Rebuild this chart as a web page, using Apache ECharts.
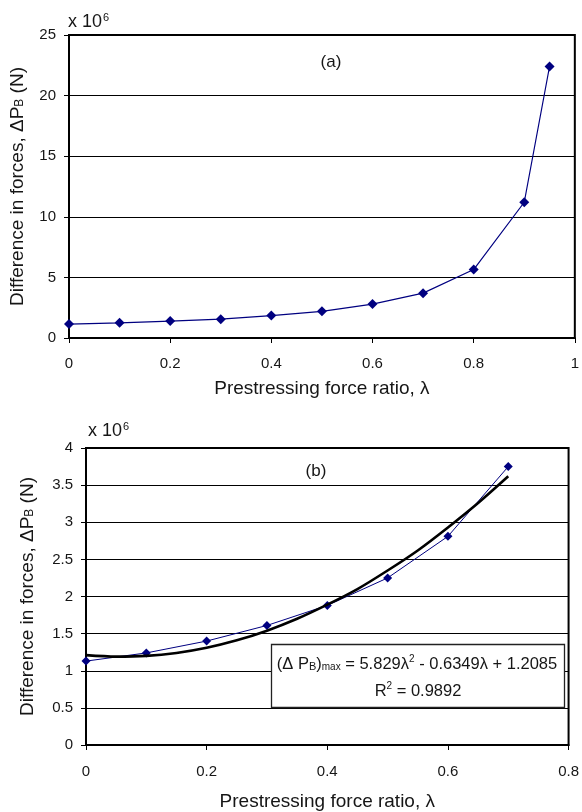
<!DOCTYPE html>
<html><head><meta charset="utf-8">
<script src="https://cdn.jsdelivr.net/npm/echarts@6/dist/echarts.min.js"></script>
<style>html,body{margin:0;padding:0;background:#fff}#c{width:582px;height:812px}</style>
</head><body><div id="c"></div>
<script>
// Chart (a)
const lambdaA = [0, 0.1, 0.2, 0.3, 0.4, 0.5, 0.6, 0.7, 0.8, 0.9, 0.95];
const dPA = [1.15, 1.25, 1.4, 1.55, 1.85, 2.2, 2.8, 3.7, 5.65, 11.2, 22.4];
// Chart (b)
const lambdaB = [0, 0.1, 0.2, 0.3, 0.4, 0.5, 0.6, 0.7];
const dPB = [1.13, 1.24, 1.40, 1.61, 1.88, 2.25, 2.81, 3.75];
// Trend line (b)
const trendX = [0, 0.05, 0.1, 0.15, 0.2, 0.25, 0.3, 0.35, 0.4, 0.45, 0.5, 0.55, 0.6, 0.65, 0.7];
const trendY = [1.21, 1.19, 1.20, 1.24, 1.31, 1.41, 1.54, 1.70, 1.89, 2.10, 2.35, 2.62, 2.93, 3.26, 3.62];
const eqLine1 = '(Δ P{s|B}){m|max} = 5.829λ{sup|2} - 0.6349λ + 1.2085';
const eqLine2 = 'R{sup|2} = 0.9892';
const yTitle = 'Difference in forces, ΔP{s|B} (N)';
const xTitle = 'Prestressing force ratio, λ';

const FF = '"Liberation Sans", Arial, sans-serif';
const TXT = '#161616';
const chart = echarts.init(document.getElementById('c'));
const toPairs = (xs, ys) => xs.map((x, i) => [x, ys[i]]);
const navy = '#000080';

function xAxisCfg(gi, max, gap, margin) {
  return {
    type: 'value', gridIndex: gi, min: 0, max: max, interval: 0.2,
    name: xTitle, nameLocation: 'middle', nameGap: gap,
    nameTextStyle: { fontFamily: FF, fontSize: 19, color: TXT },
    axisLine: { show: true, onZero: false, lineStyle: { color: '#000', width: 2 } },
    axisTick: { show: true, inside: false, length: 5, lineStyle: { color: '#000', width: 1 } },
    axisLabel: { fontFamily: FF, fontSize: 15, color: TXT, margin: margin },
    splitLine: { show: false }
  };
}
function yAxisCfg(gi, max, interval, gap) {
  return {
    type: 'value', gridIndex: gi, min: 0, max: max, interval: interval,
    name: yTitle, nameLocation: 'middle', nameGap: gap, nameRotate: 90,
    nameTextStyle: { fontFamily: FF, fontSize: 19, color: TXT,
      rich: { s: { fontFamily: FF, fontSize: 12, color: TXT, padding: [5, 0, 0, 0] } } },
    axisLine: { show: true, lineStyle: { color: '#000', width: 2 } },
    axisTick: { show: true, inside: false, length: 5, lineStyle: { color: '#000', width: 1 } },
    axisLabel: { fontFamily: FF, fontSize: 15, color: TXT, margin: 13 },
    splitLine: { show: true, lineStyle: { color: '#000', width: 1 } }
  };
}

const supStyle = { fontSize: 11, fontFamily: FF, fill: TXT, padding: [0, 0, 9, 1] };

const option = {
  animation: false,
  backgroundColor: '#fff',
  grid: [
    { left: 69, top: 35, right: 5, height: 303, show: true, borderColor: '#000', borderWidth: 2, backgroundColor: 'transparent' },
    { left: 86, top: 448, right: 10, height: 297, show: true, borderColor: '#000', borderWidth: 2, backgroundColor: 'transparent' }
  ],
  xAxis: [xAxisCfg(0, 1, 41, 18), xAxisCfg(1, 0.8, 47, 19)],
  yAxis: [yAxisCfg(0, 25, 5, 42), yAxisCfg(1, 4, 0.5, 49)],
  series: [
    { type: 'line', xAxisIndex: 0, yAxisIndex: 0, data: toPairs(lambdaA, dPA),
      symbol: 'diamond', symbolSize: 10, showAllSymbol: true,
      lineStyle: { color: navy, width: 1.2 }, itemStyle: { color: navy }, z: 3 },
    { type: 'line', xAxisIndex: 1, yAxisIndex: 1, data: toPairs(lambdaB, dPB),
      symbol: 'diamond', symbolSize: 9, showAllSymbol: true,
      lineStyle: { color: navy, width: 1 }, itemStyle: { color: navy }, z: 3 },
    { type: 'line', xAxisIndex: 1, yAxisIndex: 1, data: toPairs(trendX, trendY),
      symbol: 'none', smooth: 0.3,
      lineStyle: { color: '#000', width: 2.6 }, z: 4 }
  ],
  graphic: [
    { type: 'text', left: 68, top: 12, z: 100,
      style: { text: 'x 10{sup|6}', font: '18px ' + FF, fill: TXT, rich: { sup: supStyle } } },
    { type: 'text', left: 88, top: 421, z: 100,
      style: { text: 'x 10{sup|6}', font: '18px ' + FF, fill: TXT, rich: { sup: supStyle } } },
    { type: 'text', x: 331, y: 62, z: 100,
      style: { text: '(a)', font: '17px ' + FF, fill: TXT, textAlign: 'center', textVerticalAlign: 'middle' } },
    { type: 'text', x: 316, y: 471, z: 100,
      style: { text: '(b)', font: '17px ' + FF, fill: TXT, textAlign: 'center', textVerticalAlign: 'middle' } },
    { type: 'rect', z: 100, shape: { x: 271.5, y: 644.5, width: 293, height: 63 },
      style: { fill: '#fff', stroke: '#222', lineWidth: 1.3 } },
    { type: 'text', x: 417, y: 664, z: 101,
      style: { text: eqLine1, font: '16.5px ' + FF, fill: TXT, textAlign: 'center', textVerticalAlign: 'middle',
        rich: {
          s: { fontSize: 11, fontFamily: FF, fill: TXT, padding: [5, 0, 0, 0] },
          m: { fontSize: 10, fontFamily: FF, fill: TXT, padding: [7, 0, 0, 0] },
          sup: { fontSize: 10, fontFamily: FF, fill: TXT, padding: [0, 0, 9, 0] }
        } } },
    { type: 'text', x: 418, y: 691, z: 101,
      style: { text: eqLine2, font: '16.5px ' + FF, fill: TXT, textAlign: 'center', textVerticalAlign: 'middle',
        rich: { sup: { fontSize: 10, fontFamily: FF, fill: TXT, padding: [0, 0, 9, 0] } } } }
  ]
};
chart.setOption(option);
</script>
</body></html>
